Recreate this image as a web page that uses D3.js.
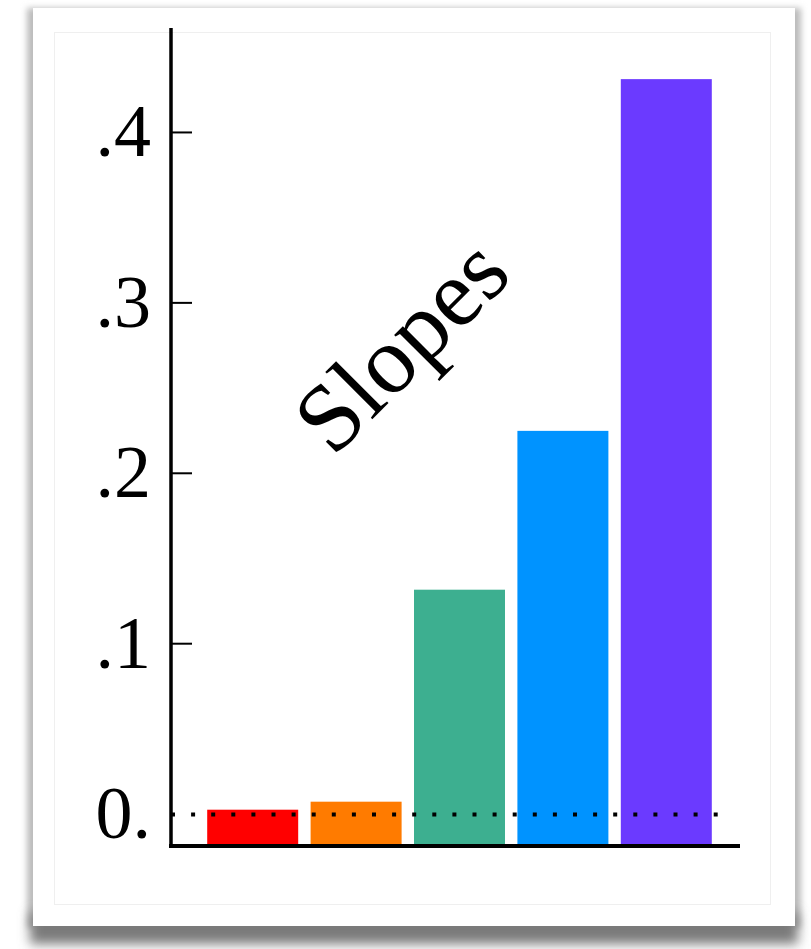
<!DOCTYPE html>
<html>
<head>
<meta charset="utf-8">
<script src="https://cdn.jsdelivr.net/npm/d3@7"></script>
<style>
html,body{margin:0;padding:0;background:#fff;}
svg{display:block;}
</style>
</head>
<body>
<svg id="chart" width="811" height="949"></svg>
<script>
const categories = ["A", "B", "C", "D", "E"];
const values = [0.0023, 0.007, 0.1314, 0.2246, 0.431];
const colors = ["#ff0000", "#ff7b00", "#3daf90", "#0093ff", "#6b3aff"];
const tickValues = [0, 0.1, 0.2, 0.3, 0.4];
const tickLabels = ["0.", ".1", ".2", ".3", ".4"];
const title = "Slopes";
const yDomain = [-0.019, 0.461];

const svg = d3.select("#chart");
const defs = svg.append("defs");
const f1 = defs.append("filter").attr("id","blur1").attr("x","-10%").attr("y","-10%").attr("width","120%").attr("height","120%");
f1.append("feGaussianBlur").attr("stdDeviation", 3);
const f2 = defs.append("filter").attr("id","blur2").attr("x","-10%").attr("y","-50%").attr("width","120%").attr("height","200%");
f2.append("feGaussianBlur").attr("stdDeviation", 6);

// card shadow
svg.append("rect").attr("x", 27).attr("y", 8).attr("width", 774).attr("height", 920)
  .attr("fill", "#bbb").attr("filter", "url(#blur1)");
svg.append("rect").attr("x", 30).attr("y", 912).attr("width", 768).attr("height", 32)
  .attr("fill", "#7a7a7a").attr("filter", "url(#blur2)");
// card
svg.append("rect").attr("x", 33).attr("y", 8).attr("width", 762).attr("height", 918).attr("fill", "#ffffff");
svg.append("rect").attr("x", 54.5).attr("y", 32.5).attr("width", 716).attr("height", 872)
  .attr("fill", "none").attr("stroke", "#efefef").attr("stroke-width", 1);

const x = d3.scaleBand().domain(categories).range([201, 718]).paddingInner(0.12).paddingOuter(0.06);
const y = d3.scaleLinear().domain(yDomain).range([846, 28]);

const data = categories.map((c, i) => ({c, v: values[i], color: colors[i]}));

svg.append("g").selectAll("rect").data(data).join("rect")
  .attr("x", d => x(d.c))
  .attr("width", x.bandwidth())
  .attr("y", d => y(d.v))
  .attr("height", d => y(yDomain[0]) - y(d.v))
  .attr("fill", d => d.color);

// zero dotted line
svg.append("line")
  .attr("x1", 171).attr("x2", 725)
  .attr("y1", y(0) + 1).attr("y2", y(0) + 1)
  .attr("stroke", "#000").attr("stroke-width", 4)
  .attr("stroke-dasharray", "4,16.1");

// y axis
const yAxis = d3.axisRight(y)
  .tickValues(tickValues.filter(t => t !== 0))
  .tickSize(21)
  .tickFormat("");
const ya = svg.append("g").attr("transform", "translate(171,0)").call(yAxis);
ya.select(".domain").remove();
ya.selectAll(".tick line").attr("stroke", "#000").attr("stroke-width", 2);
svg.append("line").attr("x1", 171).attr("x2", 171).attr("y1", 28).attr("y2", 848)
  .attr("stroke", "#000").attr("stroke-width", 3.5);
// x axis line
svg.append("line").attr("x1", 169).attr("x2", 740).attr("y1", y(yDomain[0])).attr("y2", y(yDomain[0]))
  .attr("stroke", "#000").attr("stroke-width", 4);

// tick labels
svg.append("g").selectAll("text").data(tickValues).join("text")
  .attr("x", 151)
  .attr("y", t => y(t))
  .attr("dy", "0.33em")
  .attr("text-anchor", "end")
  .attr("font-family", "'Liberation Serif', 'Times New Roman', serif")
  .attr("font-size", 74)
  .attr("fill", "#000")
  .text((t, i) => tickLabels[i]);

// title
svg.append("text")
  .attr("transform", "translate(400,344) rotate(-45)")
  .attr("text-anchor", "middle")
  .attr("dy", "0.35em")
  .attr("font-family", "'Liberation Serif', 'Times New Roman', serif")
  .attr("font-size", 96)
  .attr("fill", "#000")
  .text(title);
</script>
</body>
</html>
